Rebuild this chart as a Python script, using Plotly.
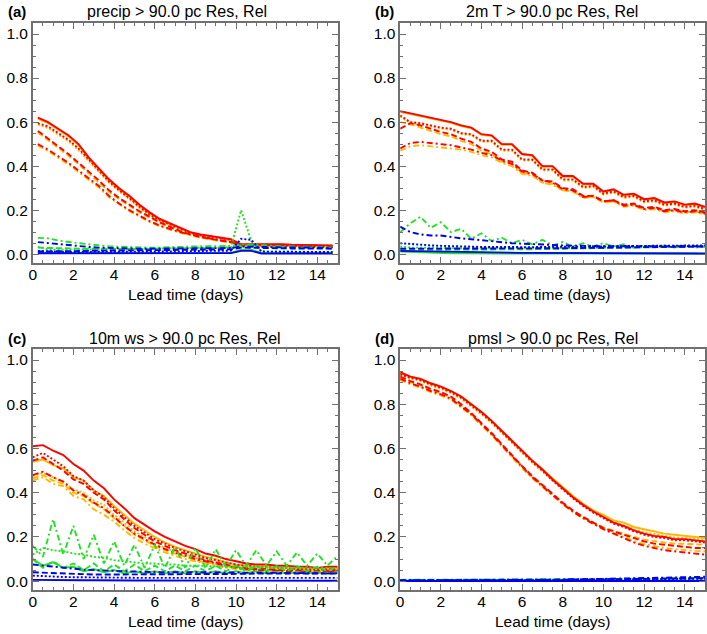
import numpy as np
import plotly.graph_objects as go
from plotly.subplots import make_subplots

# lead times (days)
lead_a = np.arange(0.25, 15.0, 0.5)   # precip: 12h accumulations, centred
lead_b = np.arange(0.0, 15.01, 0.5)

# ---- (a) precip ----
a_red_solid = [0.62, 0.60, 0.57, 0.54, 0.50, 0.44, 0.39, 0.34, 0.30, 0.265, 0.225, 0.19, 0.16, 0.14, 0.12,
               0.10, 0.09, 0.082, 0.075, 0.068, 0.045, 0.045, 0.048, 0.046, 0.045, 0.043, 0.042, 0.04, 0.04, 0.04]
a_red_dotted = [0.595, 0.58, 0.55, 0.52, 0.48, 0.43, 0.38, 0.33, 0.29, 0.255, 0.215, 0.18, 0.155, 0.135, 0.115,
                0.097, 0.087, 0.079, 0.072, 0.065, 0.043, 0.043, 0.045, 0.044, 0.043, 0.041, 0.04, 0.039, 0.038, 0.038]
a_red_dashed = [0.56, 0.525, 0.49, 0.455, 0.415, 0.375, 0.335, 0.29, 0.255, 0.225, 0.195, 0.17, 0.145, 0.125, 0.105,
                0.09, 0.078, 0.07, 0.062, 0.055, 0.04, 0.04, 0.042, 0.04, 0.04, 0.038, 0.037, 0.036, 0.035, 0.035]
a_red_dashdot = [0.50, 0.475, 0.445, 0.415, 0.38, 0.345, 0.31, 0.265, 0.23, 0.20, 0.175, 0.15, 0.13, 0.115, 0.10,
                 0.09, 0.08, 0.07, 0.062, 0.055, 0.04, 0.04, 0.04, 0.039, 0.038, 0.037, 0.036, 0.035, 0.034, 0.034]
a_orange_solid = [0.615, 0.595, 0.565, 0.535, 0.495, 0.435, 0.385, 0.335, 0.295, 0.26, 0.22, 0.186, 0.157, 0.137, 0.117,
                  0.098, 0.088, 0.08, 0.073, 0.066, 0.043, 0.043, 0.046, 0.044, 0.043, 0.041, 0.04, 0.038, 0.038, 0.038]
a_orange_dotted = [0.588, 0.573, 0.543, 0.513, 0.473, 0.423, 0.373, 0.324, 0.285, 0.25, 0.21, 0.176, 0.151, 0.131, 0.112,
                   0.094, 0.084, 0.076, 0.07, 0.063, 0.041, 0.041, 0.043, 0.042, 0.041, 0.039, 0.038, 0.037, 0.036, 0.036]
a_orange_dashed = [0.553, 0.518, 0.483, 0.448, 0.408, 0.368, 0.328, 0.284, 0.25, 0.22, 0.19, 0.166, 0.141, 0.121, 0.102,
                   0.087, 0.075, 0.067, 0.06, 0.053, 0.038, 0.038, 0.04, 0.038, 0.038, 0.036, 0.035, 0.034, 0.033, 0.033]
a_orange_dashdot = [0.493, 0.468, 0.438, 0.408, 0.373, 0.338, 0.303, 0.259, 0.225, 0.195, 0.171, 0.146, 0.126, 0.111, 0.097,
                    0.087, 0.077, 0.068, 0.06, 0.053, 0.038, 0.038, 0.038, 0.037, 0.036, 0.035, 0.034, 0.033, 0.032, 0.032]
a_green_solid = [0.006, 0.005, 0.005, 0.005, 0.005, 0.005, 0.005, 0.005, 0.005, 0.005, 0.005, 0.005, 0.005, 0.005, 0.005,
                 0.005, 0.005, 0.005, 0.005, 0.006, 0.02, 0.02, 0.006, 0.005, 0.005, 0.005, 0.005, 0.005, 0.005, 0.005]
a_green_dotted = [0.033, 0.022, 0.02, 0.02, 0.02, 0.021, 0.022, 0.022, 0.023, 0.023, 0.024, 0.025, 0.025, 0.026, 0.027,
                  0.028, 0.029, 0.03, 0.03, 0.032, 0.20, 0.06, 0.012, 0.012, 0.011, 0.011, 0.01, 0.01, 0.01, 0.01]
a_green_dashed = [0.03, 0.028, 0.027, 0.026, 0.025, 0.025, 0.024, 0.024, 0.024, 0.024, 0.024, 0.025, 0.025, 0.025, 0.026,
                  0.026, 0.027, 0.028, 0.028, 0.03, 0.04, 0.04, 0.035, 0.033, 0.032, 0.031, 0.03, 0.03, 0.029, 0.029]
a_green_dashdot = [0.074, 0.072, 0.062, 0.055, 0.05, 0.045, 0.04, 0.036, 0.034, 0.032, 0.03, 0.03, 0.03, 0.032, 0.033,
                   0.035, 0.036, 0.036, 0.037, 0.038, 0.045, 0.042, 0.04, 0.038, 0.036, 0.035, 0.034, 0.033, 0.032, 0.032]
a_blue_solid = [0.004, 0.004, 0.004, 0.004, 0.004, 0.004, 0.004, 0.004, 0.004, 0.004, 0.004, 0.004, 0.004, 0.004, 0.004,
                0.004, 0.004, 0.004, 0.004, 0.005, 0.015, 0.015, 0.003, 0.003, 0.003, 0.003, 0.003, 0.003, 0.003, 0.003]
a_blue_dotted = [0.015, 0.012, 0.011, 0.01, 0.01, 0.01, 0.01, 0.01, 0.011, 0.011, 0.012, 0.012, 0.012, 0.013, 0.013,
                 0.014, 0.014, 0.015, 0.015, 0.016, 0.07, 0.065, 0.012, 0.011, 0.011, 0.01, 0.01, 0.01, 0.01, 0.01]
a_blue_dashed = [0.012, 0.012, 0.013, 0.014, 0.015, 0.015, 0.016, 0.016, 0.017, 0.017, 0.018, 0.018, 0.019, 0.019, 0.02,
                 0.02, 0.021, 0.021, 0.022, 0.022, 0.03, 0.03, 0.028, 0.027, 0.027, 0.026, 0.026, 0.025, 0.025, 0.025]
a_blue_dashdot = [0.055, 0.05, 0.045, 0.04, 0.036, 0.033, 0.03, 0.028, 0.027, 0.026, 0.025, 0.025, 0.025, 0.025, 0.025,
                  0.026, 0.026, 0.027, 0.027, 0.028, 0.035, 0.035, 0.033, 0.032, 0.031, 0.03, 0.03, 0.03, 0.03, 0.03]

# ---- (b) 2m T ----
b_red_solid = [0.65, 0.64, 0.63, 0.62, 0.61, 0.60, 0.585, 0.575, 0.545, 0.54, 0.50, 0.50, 0.455, 0.45, 0.40, 0.40,
               0.355, 0.355, 0.32, 0.32, 0.285, 0.295, 0.27, 0.275, 0.25, 0.255, 0.235, 0.24, 0.225, 0.23, 0.215]
b_red_dotted = [0.63, 0.60, 0.595, 0.585, 0.575, 0.57, 0.55, 0.545, 0.515, 0.515, 0.475, 0.475, 0.43, 0.43, 0.385, 0.385,
                0.34, 0.34, 0.305, 0.31, 0.275, 0.285, 0.26, 0.265, 0.24, 0.245, 0.225, 0.23, 0.215, 0.22, 0.205]
b_red_dashed = [0.57, 0.595, 0.585, 0.57, 0.555, 0.545, 0.525, 0.51, 0.48, 0.465, 0.43, 0.42, 0.38, 0.37, 0.335, 0.33,
                0.30, 0.295, 0.265, 0.265, 0.24, 0.245, 0.225, 0.23, 0.21, 0.215, 0.20, 0.205, 0.195, 0.20, 0.19]
b_red_dashdot = [0.48, 0.505, 0.51, 0.505, 0.50, 0.495, 0.485, 0.475, 0.46, 0.45, 0.425, 0.41, 0.375, 0.365, 0.335, 0.325,
                 0.295, 0.29, 0.26, 0.265, 0.24, 0.245, 0.22, 0.225, 0.205, 0.21, 0.195, 0.20, 0.19, 0.195, 0.185]
b_orange_solid = [0.647, 0.637, 0.627, 0.617, 0.607, 0.597, 0.582, 0.572, 0.542, 0.537, 0.497, 0.497, 0.452, 0.447, 0.397, 0.397,
                  0.352, 0.352, 0.317, 0.317, 0.282, 0.292, 0.267, 0.272, 0.247, 0.252, 0.232, 0.237, 0.222, 0.227, 0.212]
b_orange_dotted = [0.625, 0.595, 0.59, 0.58, 0.57, 0.565, 0.545, 0.54, 0.51, 0.51, 0.47, 0.47, 0.425, 0.425, 0.38, 0.38,
                   0.335, 0.335, 0.30, 0.305, 0.27, 0.28, 0.255, 0.26, 0.235, 0.24, 0.22, 0.225, 0.21, 0.215, 0.20]
b_orange_dashed = [0.60, 0.59, 0.575, 0.56, 0.545, 0.535, 0.515, 0.50, 0.47, 0.455, 0.42, 0.41, 0.37, 0.36, 0.325, 0.32,
                   0.29, 0.285, 0.26, 0.26, 0.235, 0.24, 0.22, 0.225, 0.205, 0.21, 0.195, 0.20, 0.19, 0.195, 0.185]
b_orange_dashdot = [0.47, 0.49, 0.495, 0.49, 0.485, 0.48, 0.475, 0.465, 0.45, 0.44, 0.415, 0.40, 0.365, 0.355, 0.325, 0.315,
                    0.29, 0.285, 0.255, 0.26, 0.235, 0.24, 0.215, 0.22, 0.20, 0.205, 0.19, 0.195, 0.185, 0.19, 0.18]
b_green_solid = [0.012, 0.01, 0.008, 0.006, 0.005, 0.004, 0.004, 0.003, 0.003, 0.003, 0.003, 0.003, 0.003, 0.003, 0.003, 0.003,
                 0.003, 0.003, 0.003, 0.003, 0.003, 0.003, 0.003, 0.003, 0.003, 0.003, 0.003, 0.003, 0.003, 0.003, 0.003]
b_green_dotted = [0.035, 0.03, 0.03, 0.03, 0.028, 0.027, 0.027, 0.026, 0.026, 0.025, 0.025, 0.025, 0.025, 0.025, 0.025, 0.026,
                  0.026, 0.027, 0.028, 0.028, 0.03, 0.03, 0.03, 0.031, 0.031, 0.032, 0.032, 0.033, 0.033, 0.034, 0.034]
b_green_dashed = [0.025, 0.022, 0.02, 0.02, 0.02, 0.02, 0.02, 0.02, 0.02, 0.02, 0.02, 0.021, 0.022, 0.022, 0.023, 0.024,
                  0.025, 0.026, 0.027, 0.028, 0.029, 0.03, 0.031, 0.032, 0.033, 0.033, 0.034, 0.035, 0.035, 0.036, 0.036]
b_green_dashdot = [0.10, 0.14, 0.17, 0.12, 0.145, 0.10, 0.115, 0.07, 0.095, 0.06, 0.075, 0.05, 0.065, 0.045, 0.065, 0.04,
                   0.055, 0.035, 0.05, 0.035, 0.05, 0.035, 0.045, 0.03, 0.04, 0.03, 0.04, 0.03, 0.04, 0.03, 0.035]
b_blue_solid = [0.015, 0.014, 0.013, 0.012, 0.011, 0.01, 0.009, 0.008, 0.008, 0.007, 0.007, 0.006, 0.006, 0.006, 0.006, 0.006,
                0.006, 0.006, 0.006, 0.006, 0.006, 0.006, 0.005, 0.005, 0.005, 0.005, 0.005, 0.004, 0.004, 0.003, 0.002]
b_blue_dotted = [0.05, 0.046, 0.042, 0.04, 0.038, 0.036, 0.035, 0.034, 0.033, 0.033, 0.032, 0.032, 0.032, 0.032, 0.033, 0.033,
                 0.034, 0.034, 0.035, 0.035, 0.036, 0.036, 0.037, 0.037, 0.038, 0.038, 0.039, 0.039, 0.04, 0.04, 0.04]
b_blue_dashed = [0.025, 0.025, 0.024, 0.024, 0.024, 0.024, 0.024, 0.024, 0.024, 0.024, 0.024, 0.025, 0.025, 0.026, 0.026, 0.027,
                 0.027, 0.028, 0.028, 0.029, 0.03, 0.03, 0.031, 0.031, 0.032, 0.032, 0.033, 0.033, 0.034, 0.034, 0.035]
b_blue_dashdot = [0.125, 0.10, 0.09, 0.085, 0.085, 0.078, 0.072, 0.068, 0.063, 0.058, 0.055, 0.05, 0.048, 0.045, 0.043, 0.042,
                  0.04, 0.04, 0.038, 0.037, 0.036, 0.036, 0.035, 0.035, 0.035, 0.035, 0.035, 0.035, 0.035, 0.036, 0.036]

# ---- (c) 10m ws ----
c_red_solid = [0.61, 0.615, 0.59, 0.57, 0.53, 0.50, 0.455, 0.42, 0.37, 0.33, 0.285, 0.255, 0.225, 0.20, 0.18, 0.16,
               0.145, 0.125, 0.115, 0.10, 0.09, 0.08, 0.075, 0.075, 0.07, 0.07, 0.065, 0.065, 0.06, 0.065, 0.065]
c_red_dotted = [0.56, 0.58, 0.55, 0.52, 0.475, 0.455, 0.41, 0.38, 0.33, 0.29, 0.25, 0.22, 0.19, 0.17, 0.15, 0.135,
                0.12, 0.105, 0.095, 0.085, 0.075, 0.07, 0.065, 0.065, 0.06, 0.06, 0.055, 0.055, 0.05, 0.055, 0.055]
c_red_dashed = [0.545, 0.56, 0.53, 0.50, 0.46, 0.44, 0.40, 0.37, 0.32, 0.28, 0.24, 0.21, 0.18, 0.16, 0.14, 0.125,
                0.11, 0.095, 0.085, 0.075, 0.065, 0.06, 0.055, 0.055, 0.05, 0.05, 0.048, 0.048, 0.045, 0.047, 0.047]
c_red_dashdot = [0.48, 0.495, 0.47, 0.45, 0.41, 0.39, 0.355, 0.33, 0.29, 0.25, 0.215, 0.19, 0.165, 0.145, 0.13, 0.115,
                 0.10, 0.09, 0.08, 0.07, 0.06, 0.055, 0.05, 0.05, 0.047, 0.046, 0.044, 0.044, 0.042, 0.043, 0.043]
c_orange_solid = [0.54, 0.55, 0.525, 0.51, 0.47, 0.455, 0.41, 0.385, 0.34, 0.30, 0.26, 0.23, 0.20, 0.175, 0.155, 0.14,
                  0.125, 0.11, 0.10, 0.085, 0.075, 0.07, 0.065, 0.065, 0.06, 0.06, 0.055, 0.056, 0.055, 0.056, 0.056]
c_orange_dotted = [0.475, 0.49, 0.47, 0.45, 0.415, 0.40, 0.365, 0.345, 0.30, 0.265, 0.225, 0.20, 0.17, 0.15, 0.135, 0.12,
                   0.105, 0.095, 0.085, 0.075, 0.065, 0.06, 0.055, 0.055, 0.05, 0.05, 0.048, 0.048, 0.046, 0.047, 0.047]
c_orange_dashed = [0.465, 0.48, 0.455, 0.44, 0.40, 0.385, 0.35, 0.325, 0.285, 0.25, 0.21, 0.185, 0.16, 0.14, 0.125, 0.11,
                   0.095, 0.085, 0.075, 0.068, 0.06, 0.055, 0.05, 0.05, 0.046, 0.045, 0.043, 0.043, 0.041, 0.042, 0.042]
c_orange_dashdot = [0.455, 0.47, 0.44, 0.43, 0.385, 0.37, 0.325, 0.30, 0.27, 0.23, 0.195, 0.17, 0.15, 0.13, 0.115, 0.10,
                    0.09, 0.08, 0.07, 0.062, 0.055, 0.05, 0.045, 0.045, 0.042, 0.04, 0.038, 0.038, 0.036, 0.036, 0.035]
c_green_solid = [0.10, 0.07, 0.085, 0.06, 0.065, 0.045, 0.055, 0.04, 0.05, 0.035, 0.045, 0.035, 0.045, 0.035, 0.045, 0.035,
                 0.045, 0.035, 0.045, 0.035, 0.045, 0.035, 0.045, 0.035, 0.042, 0.035, 0.042, 0.035, 0.042, 0.035, 0.04]
c_green_dotted = [0.12, 0.15, 0.14, 0.135, 0.125, 0.12, 0.11, 0.105, 0.095, 0.09, 0.085, 0.08, 0.08, 0.075, 0.075, 0.07,
                  0.07, 0.068, 0.068, 0.065, 0.065, 0.063, 0.063, 0.062, 0.062, 0.06, 0.06, 0.06, 0.06, 0.06, 0.06]
c_green_dashed = [0.10, 0.06, 0.09, 0.06, 0.08, 0.05, 0.08, 0.045, 0.075, 0.045, 0.075, 0.045, 0.07, 0.045, 0.07, 0.045,
                  0.07, 0.045, 0.07, 0.045, 0.07, 0.045, 0.068, 0.045, 0.068, 0.045, 0.068, 0.045, 0.065, 0.045, 0.065]
c_green_dashdot = [0.16, 0.11, 0.28, 0.12, 0.25, 0.10, 0.21, 0.08, 0.18, 0.07, 0.165, 0.06, 0.165, 0.06, 0.155, 0.06,
                   0.15, 0.06, 0.145, 0.065, 0.14, 0.07, 0.14, 0.07, 0.135, 0.07, 0.13, 0.07, 0.125, 0.07, 0.115]
c_blue_solid = [0.006, 0.005, 0.005, 0.004, 0.004, 0.004, 0.004, 0.003, 0.003, 0.003, 0.003, 0.003, 0.003, 0.003, 0.003, 0.003,
                0.003, 0.003, 0.003, 0.003, 0.003, 0.003, 0.003, 0.003, 0.003, 0.003, 0.003, 0.003, 0.002, 0.002, 0.002]
c_blue_dotted = [0.025, 0.022, 0.02, 0.019, 0.018, 0.017, 0.016, 0.016, 0.015, 0.015, 0.015, 0.015, 0.015, 0.015, 0.015, 0.015,
                 0.015, 0.015, 0.015, 0.015, 0.015, 0.015, 0.015, 0.015, 0.015, 0.015, 0.015, 0.015, 0.015, 0.015, 0.015]
c_blue_dashed = [0.04, 0.038, 0.036, 0.034, 0.032, 0.031, 0.03, 0.03, 0.03, 0.03, 0.03, 0.03, 0.03, 0.03, 0.03, 0.03,
                 0.031, 0.031, 0.032, 0.032, 0.033, 0.033, 0.034, 0.034, 0.034, 0.035, 0.035, 0.035, 0.035, 0.035, 0.035]
c_blue_dashdot = [0.075, 0.07, 0.065, 0.06, 0.055, 0.052, 0.05, 0.048, 0.045, 0.044, 0.043, 0.042, 0.041, 0.04, 0.04, 0.04,
                  0.04, 0.04, 0.04, 0.04, 0.04, 0.039, 0.039, 0.038, 0.038, 0.037, 0.037, 0.036, 0.036, 0.035, 0.035]

# ---- (d) pmsl ----
d_red_solid = [0.945, 0.925, 0.915, 0.895, 0.88, 0.86, 0.835, 0.80, 0.765, 0.725, 0.68, 0.635, 0.59, 0.545, 0.505, 0.46,
               0.42, 0.38, 0.345, 0.315, 0.29, 0.265, 0.25, 0.23, 0.215, 0.205, 0.20, 0.19, 0.19, 0.185, 0.18]
d_red_dotted = [0.935, 0.92, 0.91, 0.89, 0.875, 0.855, 0.83, 0.795, 0.76, 0.72, 0.675, 0.63, 0.585, 0.54, 0.50, 0.455,
                0.415, 0.375, 0.34, 0.31, 0.285, 0.26, 0.245, 0.225, 0.21, 0.2, 0.195, 0.185, 0.185, 0.18, 0.175]
d_red_dashed = [0.925, 0.905, 0.89, 0.87, 0.855, 0.835, 0.80, 0.76, 0.715, 0.67, 0.62, 0.57, 0.52, 0.475, 0.435, 0.395,
                0.355, 0.32, 0.29, 0.265, 0.24, 0.225, 0.21, 0.195, 0.18, 0.17, 0.165, 0.16, 0.155, 0.15, 0.15]
d_red_dashdot = [0.915, 0.895, 0.88, 0.86, 0.845, 0.825, 0.79, 0.755, 0.71, 0.665, 0.615, 0.565, 0.515, 0.47, 0.43, 0.39,
                 0.35, 0.315, 0.285, 0.26, 0.235, 0.215, 0.195, 0.175, 0.16, 0.15, 0.14, 0.135, 0.13, 0.125, 0.12]
d_orange_solid = [0.94, 0.925, 0.915, 0.895, 0.88, 0.86, 0.835, 0.80, 0.765, 0.725, 0.68, 0.635, 0.59, 0.545, 0.505, 0.465,
                  0.425, 0.385, 0.35, 0.32, 0.30, 0.275, 0.265, 0.245, 0.235, 0.225, 0.215, 0.21, 0.205, 0.20, 0.195]
d_orange_dotted = [0.93, 0.915, 0.905, 0.885, 0.87, 0.85, 0.825, 0.79, 0.755, 0.715, 0.67, 0.625, 0.58, 0.535, 0.495, 0.455,
                   0.415, 0.378, 0.345, 0.315, 0.29, 0.268, 0.253, 0.235, 0.222, 0.212, 0.205, 0.198, 0.195, 0.19, 0.19]
d_orange_dashed = [0.92, 0.90, 0.885, 0.865, 0.85, 0.83, 0.795, 0.755, 0.71, 0.665, 0.615, 0.565, 0.515, 0.47, 0.43, 0.39,
                   0.352, 0.318, 0.29, 0.265, 0.243, 0.228, 0.215, 0.2, 0.188, 0.18, 0.175, 0.17, 0.168, 0.165, 0.165]
d_orange_dashdot = [0.91, 0.89, 0.875, 0.855, 0.84, 0.82, 0.785, 0.75, 0.705, 0.66, 0.61, 0.56, 0.51, 0.465, 0.425, 0.385,
                    0.347, 0.312, 0.283, 0.258, 0.235, 0.217, 0.2, 0.182, 0.168, 0.158, 0.15, 0.145, 0.14, 0.137, 0.135]
d_green_solid = [0.002] * 31
d_green_dotted = [0.004, 0.004, 0.004, 0.004, 0.004, 0.004, 0.004, 0.004, 0.004, 0.004, 0.005, 0.005, 0.005, 0.005, 0.005, 0.006,
                  0.006, 0.006, 0.007, 0.007, 0.008, 0.008, 0.009, 0.009, 0.01, 0.01, 0.011, 0.011, 0.012, 0.012, 0.013]
d_green_dashed = [0.005, 0.005, 0.005, 0.005, 0.005, 0.005, 0.005, 0.005, 0.005, 0.005, 0.006, 0.006, 0.006, 0.006, 0.007, 0.007,
                  0.007, 0.008, 0.008, 0.009, 0.009, 0.01, 0.01, 0.011, 0.011, 0.012, 0.012, 0.013, 0.013, 0.014, 0.014]
d_green_dashdot = [0.006, 0.006, 0.006, 0.006, 0.006, 0.006, 0.006, 0.006, 0.006, 0.006, 0.007, 0.007, 0.007, 0.007, 0.008, 0.008,
                   0.008, 0.009, 0.009, 0.01, 0.01, 0.011, 0.011, 0.012, 0.012, 0.013, 0.013, 0.014, 0.014, 0.015, 0.015]
d_blue_solid = [0.001] * 31
d_blue_dotted = [0.002, 0.002, 0.002, 0.002, 0.002, 0.002, 0.002, 0.002, 0.002, 0.002, 0.003, 0.003, 0.003, 0.003, 0.004, 0.004,
                 0.004, 0.005, 0.005, 0.006, 0.006, 0.007, 0.007, 0.008, 0.008, 0.009, 0.009, 0.01, 0.01, 0.011, 0.011]
d_blue_dashed = [0.003, 0.003, 0.003, 0.003, 0.003, 0.003, 0.003, 0.003, 0.003, 0.004, 0.004, 0.004, 0.005, 0.005, 0.005, 0.006,
                 0.006, 0.007, 0.007, 0.008, 0.008, 0.009, 0.009, 0.01, 0.01, 0.011, 0.011, 0.012, 0.012, 0.013, 0.013]
d_blue_dashdot = [0.004, 0.004, 0.004, 0.004, 0.004, 0.004, 0.004, 0.004, 0.005, 0.005, 0.005, 0.006, 0.006, 0.006, 0.007, 0.007,
                  0.008, 0.008, 0.009, 0.01, 0.01, 0.011, 0.012, 0.013, 0.013, 0.014, 0.015, 0.016, 0.017, 0.018, 0.02]

titles = ["precip > 90.0 pc Res, Rel", "2m T > 90.0 pc Res, Rel",
          "10m ws > 90.0 pc Res, Rel", "pmsl > 90.0 pc Res, Rel"]
letters = ["(a)", "(b)", "(c)", "(d)"]

colours = {"orange": "#ffb800", "red": "#ff0000", "green": "#22e022", "blue": "#0000f0"}
dashes = {"solid": "solid", "dotted": "2px,2px", "dashed": "6px,3px", "dashdot": "6px,3px,2px,3px"}

panels = [
    (lead_a, {"orange": [a_orange_solid, a_orange_dotted, a_orange_dashed, a_orange_dashdot],
              "red": [a_red_solid, a_red_dotted, a_red_dashed, a_red_dashdot],
              "green": [a_green_solid, a_green_dotted, a_green_dashed, a_green_dashdot],
              "blue": [a_blue_solid, a_blue_dotted, a_blue_dashed, a_blue_dashdot]}),
    (lead_b, {"orange": [b_orange_solid, b_orange_dotted, b_orange_dashed, b_orange_dashdot],
              "red": [b_red_solid, b_red_dotted, b_red_dashed, b_red_dashdot],
              "green": [b_green_solid, b_green_dotted, b_green_dashed, b_green_dashdot],
              "blue": [b_blue_solid, b_blue_dotted, b_blue_dashed, b_blue_dashdot]}),
    (lead_b, {"orange": [c_orange_solid, c_orange_dotted, c_orange_dashed, c_orange_dashdot],
              "red": [c_red_solid, c_red_dotted, c_red_dashed, c_red_dashdot],
              "green": [c_green_solid, c_green_dotted, c_green_dashed, c_green_dashdot],
              "blue": [c_blue_solid, c_blue_dotted, c_blue_dashed, c_blue_dashdot]}),
    (lead_b, {"orange": [d_orange_solid, d_orange_dotted, d_orange_dashed, d_orange_dashdot],
              "red": [d_red_solid, d_red_dotted, d_red_dashed, d_red_dashdot],
              "green": [d_green_solid, d_green_dotted, d_green_dashed, d_green_dashdot],
              "blue": [d_blue_solid, d_blue_dotted, d_blue_dashed, d_blue_dashdot]}),
]

W, H = 707, 634
FONT = "Liberation Sans, Arial, Helvetica, sans-serif"
AXC = "#707070"

# frame boxes in pixels: (left, right, top, bottom), and where each title is centred
boxes = [(29, 336, 23, 263), (399, 706, 23, 263), (29, 336, 349, 590), (399, 706, 349, 590)]
title_x = [174, 552, 182, 553]

fig = make_subplots(rows=2, cols=2)

for i, (lead, series) in enumerate(panels):
    r, c = i // 2 + 1, i % 2 + 1
    for col in ["orange", "red", "green", "blue"]:
        for style, vals in zip(["solid", "dotted", "dashed", "dashdot"], series[col]):
            fig.add_trace(go.Scatter(x=lead, y=vals, mode="lines", showlegend=False,
                                     line=dict(color=colours[col], width=1.9, dash=dashes[style])),
                          row=r, col=c)

annotations = []
for i, (l, rgt, t, b) in enumerate(boxes):
    sfx = "" if i == 0 else str(i + 1)
    fig.layout["xaxis" + sfx].update(
        domain=[l / W, rgt / W], range=[0, 15], dtick=2, tick0=0,
        ticks="inside", ticklen=6, tickwidth=1, tickcolor=AXC, ticklabelstandoff=-3,
        minor=dict(dtick=0.5, ticks="inside", ticklen=3, tickcolor=AXC),
        showline=True, linecolor=AXC, linewidth=1.5, mirror="ticks",
        showgrid=False, zeroline=False,
        tickfont=dict(family=FONT, size=15.5, color="black"))
    fig.layout["yaxis" + sfx].update(
        domain=[1 - b / H, 1 - t / H], range=[-0.04, 1.05], dtick=0.2, tick0=0,
        tickformat=".1f",
        ticks="inside", ticklen=6, tickwidth=1, tickcolor=AXC,
        minor=dict(dtick=0.05, ticks="inside", ticklen=3, tickcolor=AXC),
        showline=True, linecolor=AXC, linewidth=1.5, mirror="ticks",
        showgrid=False, zeroline=False,
        tickfont=dict(family=FONT, size=15.5, color="black"))
    cx = (l + rgt) / 2
    annotations.append(dict(text=titles[i], x=title_x[i] / W, y=1 - (t - 11) / H, xref="paper", yref="paper",
                            showarrow=False, xanchor="center", yanchor="middle",
                            font=dict(family=FONT, size=16, color="black")))
    annotations.append(dict(text="<b>" + letters[i] + "</b>", x=(l - 27) / W, y=1 - (t - 11) / H,
                            xref="paper", yref="paper", showarrow=False, xanchor="left", yanchor="middle",
                            font=dict(family=FONT, size=15, color="black")))
    annotations.append(dict(text="Lead time (days)", x=cx / W, y=1 - (b + 31) / H, xref="paper", yref="paper",
                            showarrow=False, xanchor="center", yanchor="middle",
                            font=dict(family=FONT, size=15.5, color="black")))

fig.update_layout(width=W, height=H, margin=dict(l=0, r=0, t=0, b=0),
                  plot_bgcolor="white", paper_bgcolor="white", annotations=annotations)

# page body has a default 8px margin; drop it so the figure fills the window
fig.write_html("out.html", config={"displayModeBar": False},
               post_script="document.body.style.margin='0px';")
